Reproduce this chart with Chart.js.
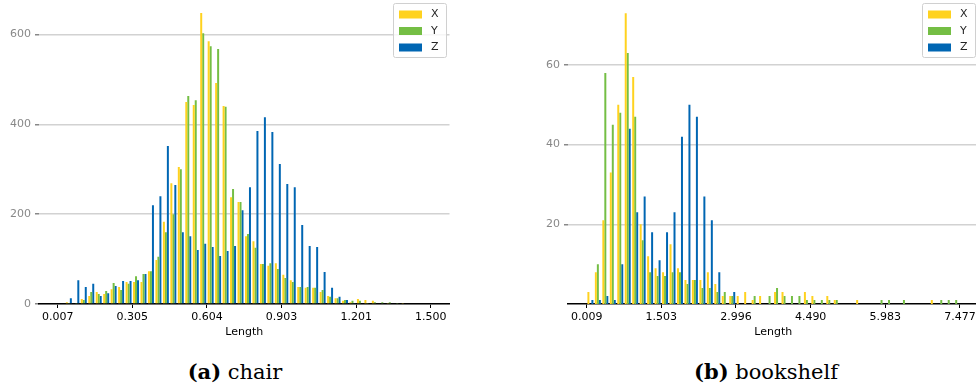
<!DOCTYPE html>
<html>
<head>
<meta charset="utf-8">
<script src="https://cdn.jsdelivr.net/npm/chart.js@4.4.0/dist/chart.umd.min.js"></script>
<style>
  html, body { margin: 0; padding: 0; background: #fff; overflow: hidden; }
  body { width: 976px; height: 387px; position: relative; }
  canvas { position: absolute; top: 0; }
  #chairChart { left: 0; }
  #shelfChart { left: 490px; }
  .caption { position: absolute; top: 359px; font-family: "DejaVu Serif", serif; font-size: 21px;
    color: #000; transform: translateX(-50%); white-space: nowrap; }
</style>
</head>
<body>
<canvas id="chairChart" width="462" height="345"></canvas>
<canvas id="shelfChart" width="490" height="345"></canvas>
<div class="caption" style="left:235px"><b>(a)</b> chair</div>
<div class="caption" style="left:766px"><b>(b)</b> bookshelf</div>
<script>
// Histogram ranges (first and last bin edge), 50 bins each
const chairRange = [0.007, 1.500];
const shelfRange = [0.009, 7.477];
const numBins = 50;

// Tick labels
const chairXTicks = ["0.007", "0.305", "0.604", "0.903", "1.201", "1.500"];
const shelfXTicks = ["0.009", "1.503", "2.996", "4.490", "5.983", "7.477"];
const chairYTicks = [0, 200, 400, 600];
const shelfYTicks = [20, 40, 60];

// Counts per bin - chair
const chairX = [0, 4, 0, 11, 18, 27, 22, 33, 38, 49,
  49, 49, 73, 98, 183, 269, 305, 450, 443, 648,
  585, 492, 441, 238, 227, 151, 140, 89, 85, 91,
  65, 53, 38, 36, 36, 27, 18, 13, 7, 4,
  11, 9, 7, 0, 2, 0, 2, 0, 0, 0];
const chairY = [0, 2, 2, 9, 27, 22, 29, 47, 31, 45,
  62, 67, 73, 105, 160, 200, 300, 463, 454, 603,
  574, 568, 439, 256, 227, 156, 125, 89, 91, 78,
  58, 49, 38, 38, 36, 31, 16, 13, 9, 7,
  7, 2, 4, 4, 4, 2, 0, 0, 0, 0];
const chairZ = [0, 13, 53, 38, 45, 18, 24, 40, 51, 51,
  53, 67, 220, 240, 352, 265, 160, 151, 120, 134,
  127, 107, 118, 129, 209, 260, 385, 416, 383, 312,
  267, 260, 176, 129, 127, 71, 36, 16, 9, 2,
  0, 0, 0, 0, 0, 0, 0, 0, 0, 0];

// Counts per bin - bookshelf
const shelfX = [3, 8, 21, 33, 50, 73, 57, 20, 12, 9,
  8, 15, 9, 6, 6, 6, 8, 5, 2, 2,
  2, 3, 1, 2, 0, 3, 3, 0, 0, 3,
  2, 0, 2, 1, 0, 0, 1, 0, 0, 0,
  0, 0, 0, 0, 0, 0, 1, 0, 0, 0];
const shelfY = [0, 10, 58, 45, 48, 63, 47, 16, 8, 7,
  7, 8, 8, 5, 6, 4, 4, 3, 3, 2,
  0, 0, 2, 0, 2, 4, 2, 2, 2, 1,
  1, 1, 1, 1, 0, 0, 0, 0, 0, 1,
  1, 0, 1, 0, 0, 0, 0, 1, 1, 1];
const shelfZ = [1, 1, 2, 1, 10, 44, 23, 27, 18, 11,
  18, 23, 42, 50, 47, 27, 21, 8, 0, 3,
  0, 0, 0, 0, 0, 0, 0, 0, 0, 0,
  0, 0, 0, 0, 0, 0, 0, 0, 0, 0,
  0, 0, 0, 0, 0, 0, 0, 0, 0, 0];

const colX = "#ffd21f";
const colY = "#74be44";
const colZ = "#0066b3";

Chart.defaults.font.family = "'DejaVu Sans', sans-serif";
Chart.defaults.font.size = 11;
Chart.defaults.color = "#000";

// Legend in a box at the top right, like matplotlib
const boxLegend = {
  id: "boxLegend",
  afterDraw(chart) {
    const { ctx, chartArea } = chart;
    const w = 53, h = 54;
    const x = Math.round(chartArea.right - 4 - w);
    const y = Math.round(chartArea.top + 3);
    ctx.save();
    ctx.fillStyle = "rgba(255,255,255,0.8)";
    ctx.strokeStyle = "#d0d0d0";
    ctx.lineWidth = 1;
    ctx.beginPath();
    ctx.roundRect(x + 0.5, y + 0.5, w, h, 2);
    ctx.fill();
    ctx.stroke();
    ctx.font = "11px 'DejaVu Sans'";
    ctx.textBaseline = "middle";
    chart.data.datasets.forEach((ds, i) => {
      const cy = y + 11.5 + i * 16.5;
      ctx.fillStyle = ds.backgroundColor;
      ctx.fillRect(x + 6, cy - 4, 23, 8);
      ctx.fillStyle = "#262626";
      ctx.fillText(ds.label, x + 38, cy);
    });
    ctx.restore();
  },
};

function binCenters(range) {
  const w = (range[1] - range[0]) / numBins;
  const out = [];
  for (let i = 0; i < numBins; i++) out.push(range[0] + w * (i + 0.5));
  return out;
}

function makeHist(id, range, xs, ys, zs, xTicks, yTicks, yMax, yWidth, padRight) {
  const centers = binCenters(range);
  const pts = (arr) => arr.map((v, i) => ({ x: centers[i], y: v }));
  const span = range[1] - range[0];
  const ds = (label, arr, color) => ({
    label: label,
    data: pts(arr),
    backgroundColor: color,
    borderWidth: 0,
    categoryPercentage: 0.8,
    barPercentage: 1.0,
  });

  return new Chart(document.getElementById(id), {
    type: "bar",
    data: {
      datasets: [ds("X", xs, colX), ds("Y", ys, colY), ds("Z", zs, colZ)],
    },
    options: {
      responsive: false,
      animation: false,
      layout: { padding: { left: 0, right: padRight, top: 0, bottom: 0 } },
      plugins: { legend: { display: false }, tooltip: { enabled: false } },
      scales: {
        x: {
          type: "linear",
          offset: false,
          min: range[0] - 0.05 * span,
          max: range[1] + 0.05 * span,
          afterBuildTicks: (scale) => {
            scale.ticks = xTicks.map((t, k) => ({
              value: range[0] + (k * span) / (xTicks.length - 1),
            }));
          },
          afterFit: (scale) => {
            scale.height = 41;
          },
          ticks: {
            autoSkip: false,
            maxRotation: 0,
            padding: 3,
            color: "#000",
            callback: (v, i) => xTicks[i],
          },
          grid: {
            offset: false,
            drawOnChartArea: false,
            drawTicks: true,
            tickLength: 4,
            tickColor: "#000",
            lineWidth: 1,
          },
          border: { display: true, color: "#000", width: 1.5 },
          title: {
            display: true,
            text: "Length",
            color: "#000",
            font: { size: 11 },
            padding: { top: 0, bottom: 6 },
          },
        },
        y: {
          min: 0,
          max: yMax,
          afterBuildTicks: (scale) => {
            scale.ticks = yTicks.map((v) => ({ value: v }));
          },
          afterFit: (scale) => {
            scale.width = yWidth;
            scale.paddingTop = 0;
            scale.paddingBottom = 0;
          },
          ticks: { color: "#888", padding: 4 },
          grid: {
            color: "#d2d2d2",
            lineWidth: 1.5,
            drawTicks: true,
            tickLength: 4,
            tickColor: "#888",
          },
          border: { display: false },
        },
      },
    },
    plugins: [boxLegend],
  });
}

makeHist("chairChart", chairRange, chairX, chairY, chairZ, chairXTicks, chairYTicks, 677, 39, 12.5);
makeHist("shelfChart", shelfRange, shelfX, shelfY, shelfZ, shelfXTicks, shelfYTicks, 76.3, 78, 1.4);
</script>
</body>
</html>
